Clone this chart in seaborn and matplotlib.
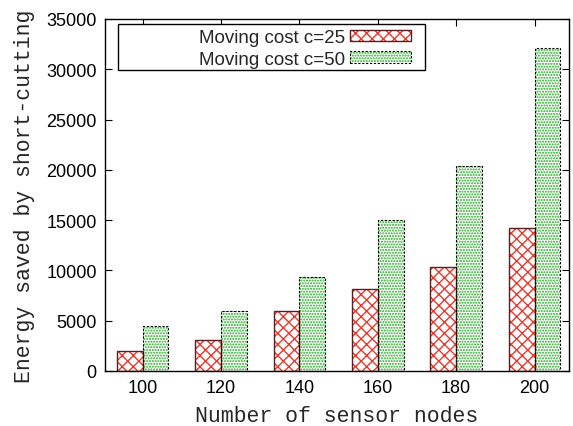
import matplotlib
matplotlib.use("Agg")
import matplotlib.pyplot as plt
import matplotlib.patches as mpatches
from matplotlib.legend_handler import HandlerTuple
import seaborn as sns
import pandas as pd

# Data
nodes = ["100", "120", "140", "160", "180", "200"]
cost_25 = [2000, 3100, 6000, 8200, 10300, 14200]
cost_50 = [4500, 6000, 9300, 15000, 20400, 32100]
series_names = ["Moving cost c=25", "Moving cost c=50"]
y_ticks = [0, 5000, 10000, 15000, 20000, 25000, 30000, 35000]

df = pd.DataFrame({
    "nodes": nodes * 2,
    "energy": cost_25 + cost_50,
    "series": [series_names[0]] * len(nodes) + [series_names[1]] * len(nodes),
})

sns.set_theme(style="white")
plt.rcParams["font.family"] = ["Liberation Sans", "DejaVu Sans"]
plt.rcParams["hatch.linewidth"] = 1.0

fig = plt.figure(figsize=(5.73, 4.27), dpi=100)
ax = fig.add_axes([105 / 573, 1 - 372 / 427, 464 / 573, 352 / 427])

red = "#e8392e"
green = "#22a822"
dark_red = "#5a1e1e"
red_hatch = "xxx"
green_hatch = "......"
dash = (0, (2, 1.5))

sns.barplot(data=df, x="nodes", y="energy", hue="series", order=nodes,
            hue_order=series_names, width=0.66, ax=ax, legend=False,
            palette=["white", "white"], saturation=1)


def style_fill(p, color, hatch):
    p.set_facecolor("white")
    p.set_edgecolor(color)
    p.set_hatch(hatch)
    p.set_linewidth(0)


def outline_of(p, color, lw, ls):
    return mpatches.Rectangle(p.get_xy(), p.get_width(), p.get_height(),
                              fill=False, edgecolor=color, linewidth=lw,
                              linestyle=ls, zorder=p.get_zorder() + 0.1)


n = len(nodes)
outlines = []
for i, p in enumerate(ax.patches[:2 * n]):
    if i < n:
        style_fill(p, red, red_hatch)
        outlines.append(outline_of(p, dark_red, 1.0, "-"))
    else:
        style_fill(p, green, green_hatch)
        outlines.append(outline_of(p, "black", 0.8, dash))
for o in outlines:
    ax.add_patch(o)

ax.set_xlim(-0.48, 5.44)
ax.set_ylim(0, 35000)
ax.set_yticks(y_ticks)
ax.set_yticklabels([str(v) for v in y_ticks])

for s in ax.spines.values():
    s.set_color("black")
    s.set_linewidth(1.0)

ax.tick_params(axis="both", direction="in", length=5, width=0.8, colors="black",
               labelsize=13, top=True, right=True, bottom=True, left=True,
               pad=6)

mono = ["Liberation Mono", "DejaVu Sans Mono"]
ax.set_xlabel("Number of sensor nodes", fontsize=15.5, family=mono, labelpad=6)
ax.set_ylabel("Energy saved by short-cutting", fontsize=15.5, family=mono, labelpad=8)

# Legend box: a wide frame with entries packed against its right side
box_x0, box_x1, box_y0, box_y1 = 0.028, 0.690, 0.855, 0.986
frame = mpatches.Rectangle((box_x0, box_y0), box_x1 - box_x0, box_y1 - box_y0,
                           transform=ax.transAxes, facecolor="white",
                           edgecolor="black", linewidth=1.0, zorder=5)
ax.add_patch(frame)

h1 = (mpatches.Patch(facecolor="white", edgecolor=red, hatch=red_hatch, linewidth=0),
      mpatches.Patch(fill=False, edgecolor=dark_red, linewidth=1.0))
h2 = (mpatches.Patch(facecolor="white", edgecolor=green, hatch=green_hatch, linewidth=0),
      mpatches.Patch(fill=False, edgecolor="black", linewidth=0.8, linestyle=dash))
leg = ax.legend([h1, h2], series_names, loc="upper right",
                bbox_to_anchor=(box_x1 - 0.022, box_y1 - 0.004), markerfirst=False,
                handler_map={tuple: HandlerTuple(ndivide=1)},
                frameon=False, fontsize=13.5, handlelength=3.25,
                handleheight=0.6, borderpad=0.2, labelspacing=0.25,
                handletextpad=0.3, borderaxespad=0)
leg.set_zorder(6)

fig.savefig("out.png", dpi=100)
